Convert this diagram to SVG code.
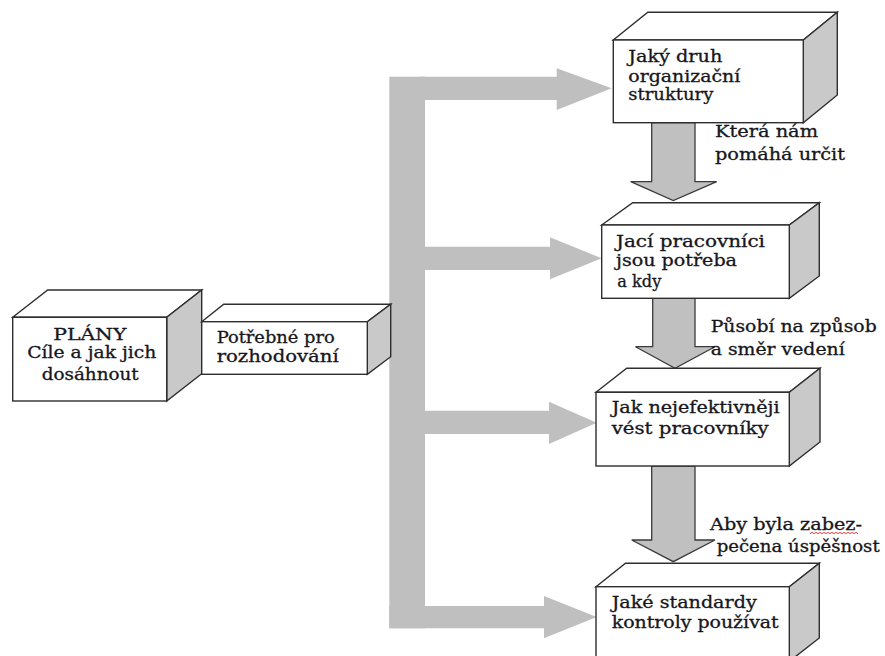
<svg xmlns="http://www.w3.org/2000/svg" width="885" height="656" viewBox="0 0 885 656">
  <style>
    .front { fill: #ffffff; stroke: #2e2e2e; stroke-width: 1.4; stroke-linejoin: miter; }
    .top { fill: #ffffff; stroke: #2e2e2e; stroke-width: 1.4; }
    .side { fill: #c9c9c9; stroke: #2e2e2e; stroke-width: 1.4; }
    .flow { fill: #bfbfbf; stroke: none; }
    .down { fill: #c0c0c0; stroke: #3a3a3a; stroke-width: 1.3; stroke-linejoin: miter; }
    text { font-family: "DejaVu Serif", "Liberation Serif", serif; font-size: 16px; fill: #161620; stroke: #161620; stroke-width: 0.3; }
    .squiggle { fill: none; stroke: #e02828; stroke-width: 0.9; }
  </style>

  <!-- connectors: branching flow bar and the downward step arrows -->
  <g id="connectors">
    <rect class="flow" x="389.3" y="76.7" width="35.7" height="551.6"/>
    <path class="flow" d="M420,76.7 H556.7 V68.3 L611.7,88.3 L556.7,110 V100 H420 Z"/>
    <path class="flow" d="M420,246.7 H550 V237.3 L601.7,258.3 L550,279.3 V270 H420 Z"/>
    <path class="flow" d="M420,410.7 H549 V401.7 L596.7,422.7 L549,444 V434 H420 Z"/>
    <path class="flow" d="M389.3,606 H544 V596 L596.7,617 L544,638.3 V628.3 H389.3 Z"/>

    <path class="down" d="M651.7,122.7 H695 V181.7 H716.7 L673.3,200.5 L630.7,181.7 H651.7 Z"/>
    <path class="down" d="M652.7,298.3 H695 V346.7 H715 L675,368.3 L635.5,346.7 H652.7 Z"/>
    <path class="down" d="M651.7,466 H695 V540 H715 L673.3,561.7 L631.7,540 H651.7 Z"/>
  </g>

  <!-- step labels beside the arrows -->
  <g id="labels">
    <text x="715" y="137.3" textLength="103" lengthAdjust="spacingAndGlyphs">Která nám</text>
    <text x="715" y="160" textLength="130" lengthAdjust="spacingAndGlyphs">pomáhá určit</text>
    <text x="710.7" y="332" textLength="166" lengthAdjust="spacingAndGlyphs">Působí na způsob</text>
    <text x="710.7" y="355" textLength="134" lengthAdjust="spacingAndGlyphs">a směr vedení</text>
    <text x="710" y="530" textLength="152" lengthAdjust="spacingAndGlyphs">Aby byla zabez-</text>
    <text x="716.7" y="551.7" textLength="163" lengthAdjust="spacingAndGlyphs">pečena úspěšnost</text>
    <path class="squiggle" d="M810,533.6 l2,-1.2 l2,1.2 l2,-1.2 l2,1.2 l2,-1.2 l2,1.2 l2,-1.2 l2,1.2 l2,-1.2 l2,1.2 l2,-1.2 l2,1.2 l2,-1.2 l2,1.2 l2,-1.2 l2,1.2 l2,-1.2 l2,1.2 l2,-1.2 l2,1.2 l2,-1.2 l2,1.2 l2,-1.2 l2,1.2"/>
  </g>

  <!-- PLÁNY -->
  <g id="plany">
    <polygon class="top" points="12.7,317.3 47.7,290 201.7,290 166.7,317.3"/>
    <polygon class="side" points="166.7,317.3 201.7,290 201.7,373.7 166.7,401"/>
    <rect class="front" x="12.7" y="317.3" width="154" height="83.7"/>
    <text x="53.3" y="339.5" textLength="73" lengthAdjust="spacingAndGlyphs">PLÁNY</text>
    <text x="27.3" y="357.7" textLength="129" lengthAdjust="spacingAndGlyphs">Cíle a jak jich</text>
    <text x="41.7" y="380" textLength="97" lengthAdjust="spacingAndGlyphs">dosáhnout</text>
  </g>

  <!-- Potřebné pro rozhodování -->
  <g id="potrebne">
    <polygon class="top" points="201.7,321.7 223.7,304.2 390.7,304.2 367.3,321.7"/>
    <polygon class="side" points="367.3,321.7 390.7,304.2 390.7,356.7 367.3,374.3"/>
    <rect class="front" x="201.7" y="321.7" width="165.6" height="52.6"/>
    <text x="216.7" y="343.3" textLength="118" lengthAdjust="spacingAndGlyphs">Potřebné pro</text>
    <text x="216.7" y="361.7" textLength="122" lengthAdjust="spacingAndGlyphs">rozhodování</text>
  </g>

  <!-- Jaký druh organizační struktury -->
  <g id="struktura">
    <polygon class="top" points="613.3,40 647.8,12.3 837.3,12.3 803.3,40"/>
    <polygon class="side" points="803.3,40 837.3,12.3 837.3,95 803.3,122.7"/>
    <rect class="front" x="613.3" y="40" width="190" height="82.7"/>
    <text x="628.3" y="61.5" textLength="94" lengthAdjust="spacingAndGlyphs">Jaký druh</text>
    <text x="628.3" y="81.5" textLength="112" lengthAdjust="spacingAndGlyphs">organizační</text>
    <text x="628.3" y="100" textLength="85" lengthAdjust="spacingAndGlyphs">struktury</text>
  </g>

  <!-- Jací pracovníci jsou potřeba a kdy -->
  <g id="pracovnici">
    <polygon class="top" points="601.7,225 632.7,202.7 819.3,202.7 789.3,225"/>
    <polygon class="side" points="789.3,225 819.3,202.7 819.3,276 789.3,298.3"/>
    <rect class="front" x="601.7" y="225" width="187.6" height="73.3"/>
    <text x="616" y="247" textLength="149" lengthAdjust="spacingAndGlyphs">Jací pracovníci</text>
    <text x="616" y="265.5" textLength="121" lengthAdjust="spacingAndGlyphs">jsou potřeba</text>
    <text x="617.3" y="286.7" textLength="44" lengthAdjust="spacingAndGlyphs">a kdy</text>
  </g>

  <!-- Jak nejefektivněji vést pracovníky -->
  <g id="vedeni">
    <polygon class="top" points="596,392.3 626.7,368.3 820,368.3 789.3,392.3"/>
    <polygon class="side" points="789.3,392.3 820,368.3 820,442 789.3,466"/>
    <rect class="front" x="596" y="392.3" width="193.3" height="73.7"/>
    <text x="611.7" y="413.3" textLength="168" lengthAdjust="spacingAndGlyphs">Jak nejefektivněji</text>
    <text x="611.7" y="434" textLength="157" lengthAdjust="spacingAndGlyphs">vést pracovníky</text>
  </g>

  <!-- Jaké standardy kontroly používat -->
  <g id="kontrola">
    <polygon class="top" points="596,586.7 625.5,563.3 819.3,563.3 789.3,586.7"/>
    <polygon class="side" points="789.3,586.7 819.3,563.3 819.3,638 789.3,661.4"/>
    <rect class="front" x="596" y="586.7" width="193.3" height="74.7"/>
    <text x="611.7" y="608.3" textLength="145" lengthAdjust="spacingAndGlyphs">Jaké standardy</text>
    <text x="611.7" y="628.3" textLength="167" lengthAdjust="spacingAndGlyphs">kontroly používat</text>
  </g>
</svg>
